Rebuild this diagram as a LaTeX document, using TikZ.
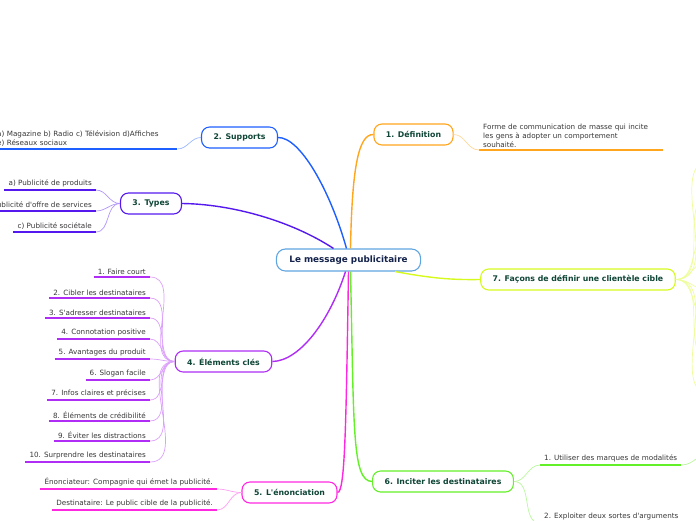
\documentclass[tikz,border=0pt]{standalone}
\usepackage{fontspec}
\setmainfont{DejaVu Sans}[Ligatures=TeXOff]
\usetikzlibrary{positioning}
\definecolor{rootblue}{RGB}{95,165,225}
\definecolor{rootink}{RGB}{20,35,75}
\definecolor{topicink}{RGB}{15,70,55}
\definecolor{leafink}{RGB}{55,55,55}
\definecolor{deforange}{RGB}{255,165,30}
\definecolor{supblue}{RGB}{30,95,255}
\definecolor{typeviolet}{RGB}{85,25,240}
\definecolor{elempurple}{RGB}{175,45,245}
\definecolor{enonpink}{RGB}{255,40,225}
\definecolor{incitegreen}{RGB}{100,240,40}
\definecolor{cibleyellow}{RGB}{215,250,30}

\begin{document}
\begin{tikzpicture}[x=1pt, y=-1pt,
                root/.style={draw=rootblue, line width=1.1pt, rounded corners=9pt,
                  fill=white, minimum height=22pt, inner xsep=13pt,
                  font=\fontsize{8.8}{10}\selectfont\bfseries, text=rootink},
                topic/.style={draw=#1, line width=1.1pt, rounded corners=8pt,
                  fill=white, minimum height=21pt, inner xsep=12pt,
                  font=\fontsize{7.8}{9}\selectfont\bfseries, text=topicink},
                leafr/.style={anchor=south east, inner xsep=4pt, inner ysep=2.5pt,
                  font=\fontsize{7.2}{8}\selectfont, text=leafink},
                leafl/.style={leafr, anchor=south west},
                note/.style={leafr, text width=176pt, align=left,
                  font=\fontsize{7.2}{9}\selectfont},
                branch/.style={draw=#1, line width=1.4pt},
                uline/.style={draw=#1, line width=1.6pt},
                twig/.style={draw=#1!45, line width=0.7pt}
            ]

            \useasboundingbox (0,0) rectangle (696,520);

            \node[root] (root) at (348.5,260) {Le message publicitaire};

            \node[topic=deforange] (def) at (413.5,134.5) {1. Définition};
            \node[topic=supblue] (sup) at (239.5,137.5) {2. Supports};
            \node[topic=typeviolet] (typ) at (151,203.5) {3. Types};
            \node[topic=elempurple] (elem) at (223.5,361.5) {4. Éléments clés};
            \node[topic=enonpink] (enon) at (289.5,492.5) {5. L'énonciation};
            \node[topic=incitegreen] (inci) at (443,481.5) {6. Inciter les destinataires};
            \node[topic=cibleyellow] (cible) at (578,279.5) {7. Façons de définir une clientèle cible};

            % main branches
            \draw[branch=deforange] ([xshift=2pt]root.north) .. controls (352,170) and (358,134) .. (def.west);
            \draw[branch=supblue] ([xshift=-2pt]root.north) .. controls (330,190) and (300,137) .. (sup.east);
            \draw[branch=typeviolet] ([xshift=-15pt]root.north) .. controls (290,220) and (230,204) .. (typ.east);
            \draw[branch=elempurple] ([xshift=-3pt]root.south) .. controls (330,320) and (300,361) .. (elem.east);
            \draw[branch=enonpink] (root.south) .. controls (346,430) and (345,492) .. (enon.east);
            \draw[branch=incitegreen] ([xshift=2pt]root.south) .. controls (354,430) and (352,481) .. (inci.west);
            \draw[branch=cibleyellow] ([xshift=-26pt]root.south east) .. controls (430,278) and (450,280) .. (cible.west);

            % 1. definition
            \node[note, anchor=south west] (deftxt) at (479,150)
                {Forme de communication de masse qui incite\\
                 les gens à adopter un comportement\\
                 souhaité.};
            \draw[twig=deforange] (def.east) to[out=0,in=180] (deftxt.south west);
            \draw[uline=deforange] (deftxt.south west) -- (deftxt.south east);

            % 2. supports
            \node[note, anchor=south west] (suptxt) at (-7,149)
                {a) Magazine b) Radio c) Télévision d)Affiches\\
                 e) Réseaux sociaux};
            \draw[twig=supblue] (sup.west) to[out=180,in=0] (suptxt.south east);
            \draw[uline=supblue] (suptxt.south west) -- (suptxt.south east);

            % 3. types
            \node[leafr] (ty1) at (96,190) {a) Publicité de produits};
            \node[leafr] (ty2) at (96,211) {b) Publicité d'offre de services};
            \node[leafr] (ty3) at (96,232) {c) Publicité sociétale};
            \foreach \k in {1,2,3} {
                \draw[twig=typeviolet] (typ.west) to[out=180,in=0] (ty\k.south east);
                \draw[uline=typeviolet] (ty\k.south west) -- (ty\k.south east);
            }

            % 4. elements cles
            \foreach \k/\ly/\txt in {1/277/{1. Faire court},
                                     2/298/{2. Cibler les destinataires},
                                     3/318/{3. S'adresser destinataires},
                                     4/339/{4. Connotation positive},
                                     5/359/{5. Avantages du produit},
                                     6/380/{6. Slogan facile},
                                     7/400/{7. Infos claires et précises},
                                     8/421/{8. Éléments de crédibilité},
                                     9/441/{9. Éviter les distractions},
                                     10/462/{10. Surprendre les destinataires}} {
                \node[leafr] (el\k) at (150,\ly) {\txt};
                \draw[twig=elempurple] (elem.west) to[out=180,in=0] (el\k.south east);
                \draw[uline=elempurple] (el\k.south west) -- (el\k.south east);
            }

            % 5. enonciation
            \node[leafr] (en1) at (217,489) {Énonciateur: Compagnie qui émet la publicité.};
            \node[leafr] (en2) at (217,510) {Destinataire: Le public cible de la publicité.};
            \foreach \k in {1,2} {
                \draw[twig=enonpink] (enon.west) to[out=180,in=0] (en\k.south east);
                \draw[uline=enonpink] (en\k.south west) -- (en\k.south east);
            }

            % 6. inciter
            \node[leafl] (in1) at (540,465) {1. Utiliser des marques de modalités};
            \node[leafl] (in2) at (540,523) {2. Exploiter deux sortes d'arguments};
            \coordinate (in1out) at (712,452);
            \foreach \k in {1,2} {
                \draw[twig=incitegreen] (inci.east) to[out=0,in=180] (in\k.south west);
                \draw[uline=incitegreen] (in\k.south west) -- (in\k.south east);
            }
            \draw[twig=incitegreen] (in1.south east) to[out=0,in=180] (in1out);

            % 7. clientele cible, cut at the edge
            \foreach \k/\fy in {1/160,2/195,3/230,4/258,5/292,6/325,7/360,8/395} {
                \coordinate (fan\k) at (712,\fy);
                \draw[twig=cibleyellow] (cible.east) to[out=0,in=180] (fan\k);
            }

            \end{tikzpicture}
\end{document}
